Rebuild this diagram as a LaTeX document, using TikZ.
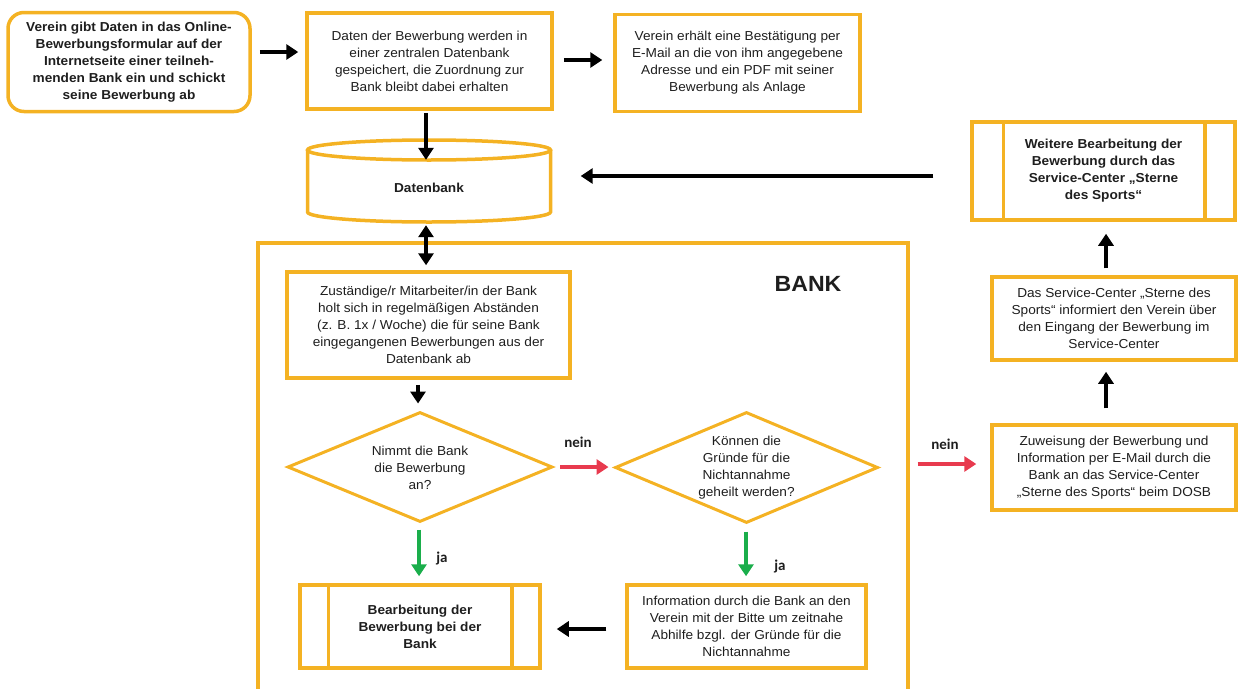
\documentclass[tikz,border=0pt]{standalone}
\usepackage{fontspec}
\setmainfont{Liberation Sans}[FakeStretch=1.05]
\newfontfamily\lblfont{Carlito}
\usetikzlibrary{arrows.meta,shapes.geometric}
\definecolor{org}{HTML}{F4B223}
\definecolor{redarr}{HTML}{E83A4E}
\definecolor{grnarr}{HTML}{1AAE4B}
\definecolor{txt}{HTML}{1E1E1E}
\newcommand\txtsz{\fontsize{13pt}{17pt}\selectfont}
\begin{document}
\begin{tikzpicture}[x=1pt,y=-1pt,
  box/.style={draw=org,line width=3.5pt,align=center,font=\txtsz,text=txt,inner sep=0pt},
  bbox/.style={box,font=\txtsz\bfseries},
  dia/.style={draw=org,line width=3pt,diamond,inner sep=0pt},
  ghost/.style={inner sep=0pt,align=center,font=\txtsz,text=txt},
  arr/.style={line width=4.5pt,-{Triangle[length=12pt,width=15pt]}},
  darr/.style={line width=4.5pt,{Triangle[length=12pt,width=15pt]}-{Triangle[length=12pt,width=15pt]}},
  rarr/.style={arr,draw=redarr},
  garr/.style={arr,draw=grnarr},
  lbl/.style={font=\lblfont\bfseries\fontsize{15pt}{17pt}\selectfont,text=txt,inner sep=0pt},
  cyl/.style={draw=org,line width=3.5pt},
  sidebar/.style={draw=org,line width=3.5pt}
]
\useasboundingbox (0,0) rectangle (1239,688);

% top row
\node[bbox,rounded corners=16pt,minimum width=242pt,minimum height=99pt] (b1) at (129,62)
  {Verein gibt Daten in das Online-\\Bewerbungsformular auf der\\Internetseite einer teilneh-\\menden Bank ein und schickt\\seine Bewerbung ab};
\node[box,minimum width=245pt,minimum height=96pt] (b2) at (429.5,61)
  {Daten der Bewerbung werden in\\einer zentralen Datenbank\\gespeichert, die Zuordnung zur\\Bank bleibt dabei erhalten};
\node[box,minimum width=245pt,minimum height=97pt] (b3) at (737.5,63)
  {Verein erhält eine Bestätigung per\\E-Mail an die von ihm angegebene\\Adresse und ein PDF mit seiner\\Bewerbung als Anlage};

% database cylinder
\node[inner sep=0pt,minimum width=243pt,minimum height=82pt] (db) at (429,181) {};
\draw[cyl] (429,150) ellipse [x radius=121.5pt, y radius=10pt];
\draw[cyl] (307.5,150) -- (307.5,212) arc[start angle=180, end angle=360, x radius=121.5pt, y radius=10pt] -- (550.5,150);
\node[ghost,font=\txtsz\bfseries] (dbt) at (429,188) {Datenbank};

% right column
\node[bbox,minimum width=263pt,minimum height=98pt] (we) at (1103.5,171)
  {Weitere Bearbeitung der\\Bewerbung durch das\\Service-Center „Sterne\\des Sports“};
\draw[sidebar] ([xshift=33pt]we.north west) -- ([xshift=33pt]we.south west);
\draw[sidebar] ([xshift=-32pt]we.north east) -- ([xshift=-32pt]we.south east);
\node[box,minimum width=244pt,minimum height=83pt] (sc) at (1114,318.5)
  {Das Service-Center „Sterne des\\Sports“ informiert den Verein über\\den Eingang der Bewerbung im\\Service-Center};
\node[box,minimum width=244pt,minimum height=85pt] (zuw) at (1114,467.5)
  {Zuweisung der Bewerbung und\\Information per E-Mail durch die\\Bank an das Service-Center\\„Sterne des Sports“ beim DOSB};

% bank frame
\draw[draw=org,line width=3.5pt] (258,692) -- (258,243) -- (908,243) -- (908,692);
\node[font=\bfseries\fontsize{22pt}{24pt}\selectfont,text=txt,inner sep=0pt] (bank) at (808,284) {BANK};

\node[box,minimum width=283pt,minimum height=106pt] (zust) at (428.5,325)
  {Zuständige/r Mitarbeiter/in der Bank\\holt sich in regelmäßigen Abständen\\(z. B. 1x / Woche) die für seine Bank\\eingegangenen Bewerbungen aus der\\Datenbank ab};

\node[dia,minimum width=265pt,minimum height=110pt] (d1) at (420,467) {};
\node[ghost] (d1t) at (420,468) {Nimmt die Bank\\die Bewerbung\\an?};
\node[dia,minimum width=263pt,minimum height=111pt] (d2) at (746.5,467.5) {};
\node[ghost] (d2t) at (746.5,468) {Können die\\Gründe für die\\Nichtannahme\\geheilt werden?};

\node[bbox,minimum width=240pt,minimum height=83pt] (bear) at (420,626.5)
  {Bearbeitung der\\Bewerbung bei der\\Bank};
\draw[sidebar] ([xshift=30pt]bear.north west) -- ([xshift=30pt]bear.south west);
\draw[sidebar] ([xshift=-30pt]bear.north east) -- ([xshift=-30pt]bear.south east);
\node[box,minimum width=239pt,minimum height=83pt] (info) at (746.5,626.5)
  {Information durch die Bank an den\\Verein mit der Bitte um zeitnahe\\Abhilfe bzgl. der Gründe für die\\Nichtannahme};

% arrows
\draw[arr] ([xshift=8pt]b1.east |- 0,52) -- ([xshift=-7pt]b2.west |- 0,52);
\draw[arr] ([xshift=10pt]b2.east |- 0,60) -- ([xshift=-11pt]b3.west |- 0,60);
\draw[arr] ([yshift=-2pt]b2.south -| 426,0) -- ([yshift=-20pt]db.north -| 426,0);
\draw[arr] ([xshift=-37pt]we.west |- 0,176) -- ([xshift=30pt]db.east |- 0,176);
\draw[arr] ([yshift=7pt]sc.north -| 1106,0) -- ([yshift=-12pt]we.south -| 1106,0);
\draw[arr] ([yshift=15pt]zuw.north -| 1106,0) -- ([yshift=-10pt]sc.south -| 1106,0);
\draw[darr] ([yshift=-3pt]db.south -| 426,0) -- ([yshift=5pt]zust.north -| 426,0);
\draw[arr] ([yshift=-5pt]zust.south -| 418,0) -- ([yshift=7pt]d1.north -| 418,0);
\draw[rarr] ([xshift=6pt]d1.east |- 0,467) -- ([xshift=-5pt]d2.west |- 0,467);
\draw[garr] ([yshift=-6pt]d1.south -| 419,0) -- ([yshift=7pt]bear.north -| 419,0);
\draw[garr] ([yshift=-7pt]d2.south -| 746,0) -- ([yshift=7pt]info.north -| 746,0);
\draw[arr] ([xshift=-19pt]info.west |- 0,629) -- ([xshift=15pt]bear.east |- 0,629);
\draw[rarr] ([xshift=38pt]d2.east |- 0,464) -- ([xshift=-14pt]zuw.west |- 0,464);

% labels
\node[lbl] (n1) at (578,442) {nein};
\node[lbl] (n2) at (945,444) {nein};
\node[lbl] (j1) at (442,558) {ja};
\node[lbl] (j2) at (780,566) {ja};
\end{tikzpicture}
\end{document}
